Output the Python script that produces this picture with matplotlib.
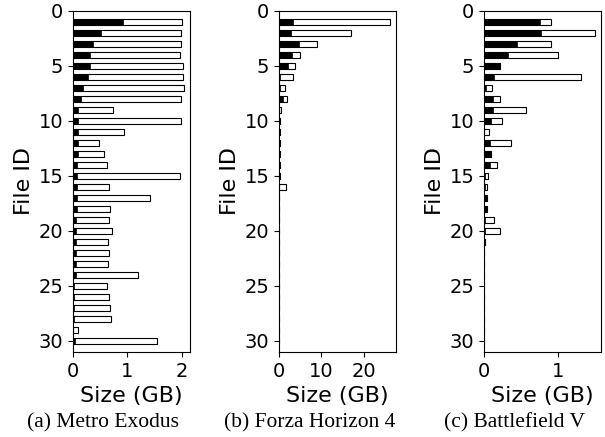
import matplotlib
matplotlib.use("Agg")
import matplotlib.pyplot as plt
import numpy as np

file_ids = list(range(1, 31))

# Metro Exodus: total size (GB) and read portion (GB)
metro_total = [2.00, 1.99, 1.99, 1.97, 2.03, 2.03, 2.05, 1.99, 0.73, 1.99,
               0.94, 0.48, 0.58, 0.62, 1.97, 0.66, 1.41, 0.68, 0.66, 0.72,
               0.64, 0.66, 0.64, 1.20, 0.62, 0.66, 0.68, 0.70, 0.10, 1.55]
metro_read = [0.92, 0.51, 0.37, 0.32, 0.32, 0.28, 0.18, 0.14, 0.10, 0.10,
              0.10, 0.10, 0.09, 0.07, 0.07, 0.07, 0.07, 0.07, 0.05, 0.05,
              0.05, 0.05, 0.05, 0.05, 0.02, 0.02, 0.02, 0.02, 0.00, 0.03]

# Forza Horizon 4
forza_total = [26.2, 17.0, 8.9, 5.0, 3.8, 3.2, 1.5, 1.8, 0.55, 0.3,
               0.2, 0.2, 0.2, 0.2, 0.2, 1.6, 0, 0, 0, 0,
               0, 0, 0, 0, 0, 0, 0, 0, 0, 0]
forza_read = [3.2, 2.8, 4.8, 3.1, 2.1, 0.2, 0.2, 0.9, 0.1, 0.3,
              0.2, 0.2, 0.2, 0.2, 0.2, 0.1, 0, 0, 0, 0,
              0, 0, 0, 0, 0, 0, 0, 0, 0, 0]

# Battlefield V
bf_total = [0.90, 1.50, 0.91, 1.00, 0.22, 1.31, 0.11, 0.22, 0.57, 0.24,
            0.07, 0.36, 0.10, 0.17, 0.05, 0.04, 0.04, 0.04, 0.14, 0.22,
            0.02, 0, 0, 0, 0, 0, 0, 0, 0, 0]
bf_read = [0.75, 0.77, 0.45, 0.32, 0.22, 0.14, 0.03, 0.12, 0.12, 0.09,
           0.00, 0.08, 0.09, 0.08, 0.02, 0.01, 0.04, 0.04, 0.02, 0.02,
           0.02, 0, 0, 0, 0, 0, 0, 0, 0, 0]

captions = ["(a) Metro Exodus", "(b) Forza Horizon 4", "(c) Battlefield V"]
xticks = [[0, 1, 2], [0, 10, 20], [0, 1]]
datasets = [(metro_total, metro_read), (forza_total, forza_read), (bf_total, bf_read)]

fig = plt.figure(figsize=(6.05, 4.37), dpi=100)
lefts = [0.1207, 0.4612, 0.800]
width = 0.193
bottom = 0.195
height = 0.975 - 0.195

for i, ((tot, rd), cap, xt) in enumerate(zip(datasets, captions, xticks)):
    ax = fig.add_axes([lefts[i], bottom, width, height])
    ax.barh(file_ids, tot, height=0.5, color="white", edgecolor="black", linewidth=0.8)
    ax.barh(file_ids, rd, height=0.5, color="black", edgecolor="black", linewidth=0.5)
    ax.set_ylim(31, 0)
    ax.set_yticks([0, 5, 10, 15, 20, 25, 30])
    ax.set_xticks(xt)
    ax.tick_params(labelsize=14)
    ax.set_xlabel("Size (GB)", fontsize=16)
    ax.set_ylabel("File ID", fontsize=16, labelpad=3)
    cx = lefts[i] + width / 2 - 28 / 605
    fig.text(cx, 1 - 423 / 437, cap, ha="center", va="center",
             family="Liberation Serif", fontsize=15.5)

fig.savefig("out.png", dpi=100)
